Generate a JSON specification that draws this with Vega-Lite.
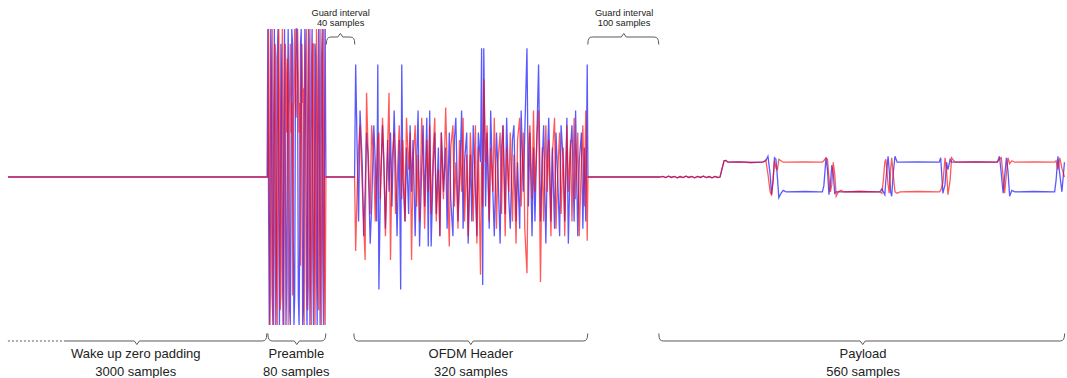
{
  "$schema": "https://vega.github.io/schema/vega-lite/v6.json",
  "width": 1067,
  "height": 378,
  "padding": 0,
  "autosize": {"type": "none"},
  "background": "#ffffff",
  "config": {"view": {"stroke": null}},
  "layer": [
    {
      "data": {"values": [
        {"t": -358, "r": 0, "b": 0},
        {"t": -1, "r": 0, "b": 0},
        {"t": 0, "r": 0, "b": 1},
        {"t": 1, "r": 1, "b": -0.2},
        {"t": 2, "r": 0.2, "b": -1},
        {"t": 3, "r": -1, "b": -0.3},
        {"t": 4, "r": -0.6, "b": 1},
        {"t": 5, "r": 0.7, "b": 0.6},
        {"t": 6, "r": 1, "b": -0.8},
        {"t": 7, "r": -0.3, "b": -1},
        {"t": 8, "r": -1, "b": 0.4},
        {"t": 9, "r": -0.4, "b": 1},
        {"t": 10, "r": 0.9, "b": 0.1},
        {"t": 11, "r": 0.8, "b": -1},
        {"t": 12, "r": -0.5, "b": -0.6},
        {"t": 13, "r": -1, "b": 0.8},
        {"t": 14, "r": 0.1, "b": 1},
        {"t": 15, "r": 1, "b": -0.2},
        {"t": 16, "r": 0.5, "b": -1},
        {"t": 17, "r": -0.9, "b": -0.3},
        {"t": 18, "r": -0.8, "b": 0.9},
        {"t": 19, "r": 0.6, "b": 0.7},
        {"t": 20, "r": 1, "b": -0.6},
        {"t": 21, "r": 0.2, "b": -1},
        {"t": 22, "r": -1, "b": 0.3},
        {"t": 23, "r": -0.2, "b": 1},
        {"t": 24, "r": 0.9, "b": 0.2},
        {"t": 25, "r": 0.7, "b": -1},
        {"t": 26, "r": 0.3, "b": -0.7},
        {"t": 27, "r": 0.8, "b": 0.5},
        {"t": 28, "r": -1, "b": 1},
        {"t": 29, "r": 0.4, "b": 0.4},
        {"t": 30, "r": 0.6, "b": -0.9},
        {"t": 31, "r": 0.9, "b": -1},
        {"t": 32, "r": 0.3, "b": 0.2},
        {"t": 33, "r": 0.5, "b": 1},
        {"t": 34, "r": -0.8, "b": 0.9},
        {"t": 35, "r": 0.2, "b": -0.4},
        {"t": 36, "r": 0.7, "b": -1},
        {"t": 37, "r": 1, "b": -0.8},
        {"t": 38, "r": 0.5, "b": 0.6},
        {"t": 39, "r": 0.4, "b": 1},
        {"t": 40, "r": 0.6, "b": 1},
        {"t": 41, "r": 1, "b": 0.6},
        {"t": 42, "r": 0.7, "b": -0.8},
        {"t": 43, "r": 0.3, "b": -1},
        {"t": 44, "r": 0.5, "b": -0.4},
        {"t": 45, "r": -0.6, "b": 0.9},
        {"t": 46, "r": 0.4, "b": 1},
        {"t": 47, "r": 0.9, "b": 0.2},
        {"t": 48, "r": 0.5, "b": -1},
        {"t": 49, "r": 0.6, "b": -0.9},
        {"t": 50, "r": -1, "b": 0.3},
        {"t": 51, "r": 0.3, "b": 1},
        {"t": 52, "r": 0.8, "b": 0.5},
        {"t": 53, "r": 1, "b": -0.7},
        {"t": 54, "r": 0.2, "b": -1},
        {"t": 55, "r": -0.9, "b": 0.4},
        {"t": 56, "r": -0.7, "b": 1},
        {"t": 57, "r": 0.8, "b": 0.2},
        {"t": 58, "r": 1, "b": -1},
        {"t": 59, "r": -0.2, "b": -0.6},
        {"t": 60, "r": -1, "b": 0.7},
        {"t": 61, "r": -0.5, "b": 1},
        {"t": 62, "r": 0.9, "b": -0.2},
        {"t": 63, "r": 0.9, "b": -1},
        {"t": 64, "r": -0.4, "b": -0.4},
        {"t": 65, "r": -1, "b": 0.9},
        {"t": 66, "r": 0.1, "b": 0.8},
        {"t": 67, "r": 1, "b": -0.6},
        {"t": 68, "r": 0.6, "b": -1},
        {"t": 69, "r": -0.8, "b": 0.3},
        {"t": 70, "r": -0.9, "b": 1},
        {"t": 71, "r": 0.5, "b": 0.1},
        {"t": 72, "r": 1, "b": -1},
        {"t": 73, "r": -0.1, "b": -0.5},
        {"t": 74, "r": -1, "b": 0.8},
        {"t": 75, "r": -0.5, "b": 1},
        {"t": 76, "r": 0.8, "b": -0.4},
        {"t": 77, "r": 1, "b": -1},
        {"t": 78, "r": -0.6, "b": 0.2},
        {"t": 79, "r": -1, "b": 1},
        {"t": 80, "r": 0, "b": 0},
        {"t": 119.5, "r": 0, "b": 0},
        {"t": 121, "r": -0.5, "b": 0.76},
        {"t": 123, "r": -0.1, "b": 0.2},
        {"t": 125, "r": 0.2, "b": -0.3},
        {"t": 127, "r": 0.35, "b": 0.45},
        {"t": 130, "r": -0.05, "b": 0.1},
        {"t": 132, "r": -0.3, "b": -0.4},
        {"t": 134, "r": -0.56, "b": -0.1},
        {"t": 136, "r": 0.57, "b": 0.3},
        {"t": 138, "r": 0.2, "b": 0.15},
        {"t": 141, "r": -0.25, "b": -0.45},
        {"t": 143, "r": 0.35, "b": -0.2},
        {"t": 146, "r": 0.1, "b": 0.35},
        {"t": 148, "r": -0.3, "b": 0.1},
        {"t": 150, "r": 0.05, "b": -0.3},
        {"t": 151.5, "r": 0.25, "b": 0.76},
        {"t": 153, "r": 0.3, "b": -0.76},
        {"t": 155, "r": -0.15, "b": -0.1},
        {"t": 158, "r": 0.4, "b": 0.35},
        {"t": 160, "r": 0.1, "b": 0.05},
        {"t": 162, "r": -0.4, "b": -0.35},
        {"t": 165, "r": 0.2, "b": 0.25},
        {"t": 167, "r": 0.57, "b": -0.1},
        {"t": 169, "r": -0.56, "b": 0.3},
        {"t": 171, "r": 0.1, "b": -0.2},
        {"t": 174, "r": 0.3, "b": 0.45},
        {"t": 176, "r": -0.25, "b": 0.1},
        {"t": 178, "r": -0.05, "b": -0.4},
        {"t": 181, "r": 0.35, "b": 0.25},
        {"t": 183, "r": 0.1, "b": -0.76},
        {"t": 184.5, "r": -0.15, "b": 0.76},
        {"t": 186, "r": 0.25, "b": 0.0},
        {"t": 189, "r": -0.3, "b": -0.3},
        {"t": 191, "r": 0.4, "b": 0.2},
        {"t": 194, "r": 0.05, "b": -0.25},
        {"t": 196, "r": 0.3, "b": 0.35},
        {"t": 198, "r": -0.56, "b": -0.1},
        {"t": 200, "r": 0.1, "b": 0.25},
        {"t": 203, "r": 0.35, "b": -0.4},
        {"t": 205, "r": -0.2, "b": 0.1},
        {"t": 207, "r": 0.15, "b": 0.45},
        {"t": 209, "r": -0.3, "b": -0.47},
        {"t": 212, "r": 0.4, "b": 0.05},
        {"t": 214, "r": 0.1, "b": 0.35},
        {"t": 216, "r": -0.35, "b": -0.2},
        {"t": 219, "r": 0.25, "b": 0.4},
        {"t": 221, "r": -0.1, "b": -0.47},
        {"t": 223, "r": 0.35, "b": 0.45},
        {"t": 225, "r": -0.25, "b": -0.47},
        {"t": 228, "r": 0.2, "b": 0.1},
        {"t": 230, "r": 0.4, "b": 0.3},
        {"t": 232, "r": -0.3, "b": -0.25},
        {"t": 235, "r": 0.05, "b": 0.2},
        {"t": 237, "r": -0.4, "b": -0.4},
        {"t": 239, "r": 0.3, "b": 0.3},
        {"t": 242, "r": -0.15, "b": -0.1},
        {"t": 245, "r": 0.47, "b": 0.2},
        {"t": 247, "r": 0.1, "b": -0.35},
        {"t": 250, "r": -0.47, "b": 0.3},
        {"t": 252, "r": 0.2, "b": -0.15},
        {"t": 255, "r": 0.35, "b": -0.4},
        {"t": 257, "r": -0.2, "b": 0.25},
        {"t": 259, "r": 0.1, "b": 0.4},
        {"t": 262, "r": -0.35, "b": -0.3},
        {"t": 264, "r": 0.25, "b": -0.05},
        {"t": 267, "r": -0.1, "b": 0.45},
        {"t": 269, "r": 0.4, "b": -0.35},
        {"t": 271, "r": -0.3, "b": 0.1},
        {"t": 274, "r": 0.15, "b": 0.3},
        {"t": 276, "r": -0.4, "b": -0.45},
        {"t": 279, "r": 0.3, "b": 0.15},
        {"t": 281, "r": 0.05, "b": -0.3},
        {"t": 283, "r": -0.3, "b": 0.35},
        {"t": 286, "r": 0.35, "b": -0.1},
        {"t": 288, "r": -0.45, "b": -0.4},
        {"t": 290, "r": 0.2, "b": 0.3},
        {"t": 293, "r": -0.66, "b": 0.1},
        {"t": 294.5, "r": 0.1, "b": 0.87},
        {"t": 296, "r": -0.2, "b": -0.73},
        {"t": 297.5, "r": 0.66, "b": 0.87},
        {"t": 300, "r": 0.1, "b": -0.2},
        {"t": 302, "r": 0.35, "b": 0.3},
        {"t": 305, "r": -0.3, "b": -0.35},
        {"t": 307, "r": 0.2, "b": 0.45},
        {"t": 310, "r": -0.1, "b": -0.1},
        {"t": 312, "r": 0.4, "b": -0.4},
        {"t": 315, "r": -0.35, "b": 0.3},
        {"t": 317, "r": 0.1, "b": 0.05},
        {"t": 320, "r": 0.3, "b": -0.45},
        {"t": 322, "r": -0.25, "b": 0.2},
        {"t": 324, "r": 0.35, "b": 0.35},
        {"t": 327, "r": -0.4, "b": -0.25},
        {"t": 329, "r": 0.2, "b": 0.4},
        {"t": 332, "r": -0.1, "b": -0.15},
        {"t": 334, "r": 0.3, "b": -0.35},
        {"t": 337, "r": -0.3, "b": 0.25},
        {"t": 339, "r": 0.15, "b": 0.35},
        {"t": 342, "r": -0.45, "b": -0.3},
        {"t": 344, "r": 0.25, "b": 0.1},
        {"t": 347, "r": 0.4, "b": -0.35},
        {"t": 349, "r": -0.2, "b": 0.45},
        {"t": 352, "r": 0.3, "b": -0.1},
        {"t": 354, "r": -0.35, "b": 0.3},
        {"t": 357, "r": -0.65, "b": 0.87},
        {"t": 359, "r": 0.2, "b": -0.2},
        {"t": 361, "r": 0.35, "b": 0.3},
        {"t": 364, "r": -0.15, "b": -0.4},
        {"t": 366, "r": 0.45, "b": 0.2},
        {"t": 368, "r": -0.1, "b": -0.3},
        {"t": 371, "r": 0.3, "b": 0.35},
        {"t": 373, "r": 0.45, "b": 0.76},
        {"t": 375.6, "r": -0.71, "b": -0.3},
        {"t": 378, "r": 0.2, "b": 0.1},
        {"t": 380, "r": -0.3, "b": 0.35},
        {"t": 383, "r": 0.35, "b": -0.45},
        {"t": 385, "r": -0.1, "b": 0.1},
        {"t": 387, "r": 0.25, "b": 0.4},
        {"t": 390, "r": -0.4, "b": -0.3},
        {"t": 392, "r": 0.15, "b": 0.2},
        {"t": 395, "r": 0.4, "b": -0.35},
        {"t": 397, "r": -0.35, "b": 0.3},
        {"t": 400, "r": 0.1, "b": -0.1},
        {"t": 402, "r": 0.3, "b": -0.4},
        {"t": 404, "r": -0.25, "b": 0.35},
        {"t": 407, "r": 0.2, "b": 0.1},
        {"t": 409, "r": -0.4, "b": -0.3},
        {"t": 412, "r": 0.35, "b": 0.4},
        {"t": 414, "r": -0.1, "b": -0.45},
        {"t": 417, "r": 0.25, "b": 0.2},
        {"t": 419, "r": -0.3, "b": 0.35},
        {"t": 422, "r": 0.4, "b": -0.3},
        {"t": 424, "r": -0.15, "b": 0.45},
        {"t": 427, "r": 0.3, "b": -0.4},
        {"t": 429, "r": -0.4, "b": 0.1},
        {"t": 432, "r": 0.1, "b": 0.3},
        {"t": 434, "r": 0.35, "b": -0.35},
        {"t": 436, "r": -0.2, "b": 0.2},
        {"t": 438, "r": 0.45, "b": -0.3},
        {"t": 440, "r": -0.43, "b": 0.76},
        {"t": 441, "r": 0, "b": 0},
        {"t": 540, "r": 0, "b": 0},
        {"t": 544, "r": 0.004, "b": 0.004},
        {"t": 548, "r": -0.004, "b": -0.004},
        {"t": 552, "r": 0.005, "b": 0.005},
        {"t": 556, "r": -0.003, "b": -0.003},
        {"t": 560, "r": 0.004, "b": 0.004},
        {"t": 564, "r": -0.005, "b": -0.005},
        {"t": 568, "r": 0.003, "b": 0.003},
        {"t": 572, "r": -0.004, "b": -0.004},
        {"t": 576, "r": 0.005, "b": 0.005},
        {"t": 580, "r": -0.003, "b": -0.003},
        {"t": 584, "r": 0.004, "b": 0.004},
        {"t": 588, "r": -0.005, "b": -0.005},
        {"t": 592, "r": 0.004, "b": 0.004},
        {"t": 596, "r": -0.003, "b": -0.003},
        {"t": 600, "r": 0.005, "b": 0.005},
        {"t": 604, "r": -0.004, "b": -0.004},
        {"t": 608, "r": 0.003, "b": 0.003},
        {"t": 612, "r": -0.005, "b": -0.005},
        {"t": 616, "r": 0.004, "b": 0.004},
        {"t": 620, "r": -0.003, "b": -0.003},
        {"t": 623, "r": 0, "b": 0},
        {"t": 626, "r": 0.06, "b": 0.06},
        {"t": 628.5, "r": 0.11, "b": 0.11},
        {"t": 631, "r": 0.112, "b": 0.112},
        {"t": 634, "r": 0.1, "b": 0.1},
        {"t": 650, "r": 0.102, "b": 0.102},
        {"t": 665, "r": 0.098, "b": 0.098},
        {"t": 682, "r": 0.1, "b": 0.1},
        {"t": 686, "r": 0.115, "b": 0.11},
        {"t": 689, "r": 0.02, "b": 0.14},
        {"t": 692, "r": -0.1, "b": 0.02},
        {"t": 694, "r": -0.12, "b": -0.12},
        {"t": 696, "r": -0.02, "b": -0.03},
        {"t": 698, "r": 0.11, "b": 0.13},
        {"t": 700, "r": 0.06, "b": 0.12},
        {"t": 702, "r": 0.05, "b": 0.0},
        {"t": 704, "r": 0.12, "b": -0.14},
        {"t": 707, "r": 0.11, "b": -0.11},
        {"t": 710, "r": 0.1, "b": -0.09},
        {"t": 714, "r": 0.1, "b": -0.1},
        {"t": 740, "r": 0.102, "b": -0.098},
        {"t": 760, "r": 0.1, "b": -0.1},
        {"t": 764, "r": 0.1, "b": -0.1},
        {"t": 766, "r": 0.11, "b": -0.06},
        {"t": 769, "r": 0.13, "b": 0.13},
        {"t": 771, "r": 0.12, "b": 0.05},
        {"t": 773, "r": 0.0, "b": -0.12},
        {"t": 775, "r": -0.1, "b": -0.05},
        {"t": 777, "r": -0.05, "b": 0.08},
        {"t": 779, "r": 0.1, "b": 0.02},
        {"t": 781, "r": 0.02, "b": -0.11},
        {"t": 783, "r": -0.13, "b": -0.1},
        {"t": 786, "r": -0.1, "b": -0.1},
        {"t": 790, "r": -0.09, "b": -0.1},
        {"t": 793, "r": -0.1, "b": -0.1},
        {"t": 815, "r": -0.098, "b": -0.098},
        {"t": 840, "r": -0.1, "b": -0.1},
        {"t": 843, "r": -0.1, "b": -0.1},
        {"t": 846, "r": -0.11, "b": -0.08},
        {"t": 848, "r": -0.02, "b": -0.1},
        {"t": 850, "r": 0.1, "b": -0.12},
        {"t": 851.5, "r": 0.12, "b": -0.02},
        {"t": 854.5, "r": -0.05, "b": 0.14},
        {"t": 856, "r": -0.11, "b": 0.05},
        {"t": 858, "r": 0.05, "b": -0.1},
        {"t": 859.5, "r": 0.13, "b": -0.13},
        {"t": 861.5, "r": 0.02, "b": 0.02},
        {"t": 864, "r": -0.1, "b": 0.14},
        {"t": 867, "r": -0.11, "b": 0.1},
        {"t": 871, "r": -0.1, "b": 0.1},
        {"t": 895, "r": -0.098, "b": 0.102},
        {"t": 925, "r": -0.1, "b": 0.1},
        {"t": 927, "r": -0.09, "b": 0.13},
        {"t": 930, "r": -0.04, "b": -0.11},
        {"t": 933, "r": 0.13, "b": -0.05},
        {"t": 935, "r": 0.05, "b": 0.1},
        {"t": 937, "r": -0.12, "b": 0.05},
        {"t": 940, "r": -0.02, "b": 0.12},
        {"t": 942, "r": 0.13, "b": 0.1},
        {"t": 945, "r": 0.11, "b": 0.1},
        {"t": 948, "r": 0.1, "b": 0.1},
        {"t": 975, "r": 0.102, "b": 0.102},
        {"t": 1005, "r": 0.1, "b": 0.1},
        {"t": 1008, "r": 0.12, "b": 0.14},
        {"t": 1010.5, "r": 0.13, "b": 0.02},
        {"t": 1013, "r": 0.0, "b": -0.11},
        {"t": 1015, "r": -0.11, "b": 0.0},
        {"t": 1017.5, "r": 0.02, "b": 0.13},
        {"t": 1019.7, "r": 0.13, "b": 0.04},
        {"t": 1022, "r": 0.09, "b": -0.13},
        {"t": 1025, "r": 0.11, "b": -0.09},
        {"t": 1029, "r": 0.1, "b": -0.1},
        {"t": 1055, "r": 0.102, "b": -0.098},
        {"t": 1084, "r": 0.1, "b": -0.1},
        {"t": 1086, "r": 0.11, "b": -0.02},
        {"t": 1088.5, "r": 0.05, "b": 0.14},
        {"t": 1091, "r": 0.13, "b": 0.02},
        {"t": 1094, "r": 0.06, "b": -0.1},
        {"t": 1097.5, "r": 0.0, "b": 0.1}
      ]},
      "transform": [{"fold": ["b", "r"], "as": ["s", "v"]}],
      "mark": {"type": "line", "strokeWidth": 1.3, "opacity": 0.65},
      "encoding": {
        "x": {"field": "t", "type": "quantitative", "scale": {"domain": [-369, 1101], "nice": false, "zero": false}, "axis": null},
        "y": {"field": "v", "type": "quantitative", "scale": {"domain": [-1.358, 1.196], "nice": false, "zero": false}, "axis": null},
        "color": {"field": "s", "type": "nominal", "scale": {"domain": ["b", "r"], "range": ["#0000ff", "#ff0000"]}, "legend": null}
      }
    },
    {
      "data": {"values": [
        {"g": "wz", "t": -279.6, "v": -1.108},
        {"g": "wz", "t": -183.9, "v": -1.108},
        {"g": "wz", "t": -180.4, "v": -1.132},
        {"g": "wz", "t": -177.0, "v": -1.108},
        {"g": "wz", "t": -7.58, "v": -1.108},
        {"g": "wz", "t": -4.82, "v": -1.105},
        {"g": "wz", "t": -3.03, "v": -1.098},
        {"g": "wz", "t": -1.93, "v": -1.084},
        {"g": "wz", "t": -1.38, "v": -1.057},
        {"g": "pre", "t": 0, "v": -1.057},
        {"g": "pre", "t": 0.55, "v": -1.084},
        {"g": "pre", "t": 1.65, "v": -1.098},
        {"g": "pre", "t": 3.44, "v": -1.105},
        {"g": "pre", "t": 6.2, "v": -1.108},
        {"g": "pre", "t": 36.5, "v": -1.108},
        {"g": "pre", "t": 39.9, "v": -1.132},
        {"g": "pre", "t": 43.4, "v": -1.108},
        {"g": "pre", "t": 73.7, "v": -1.108},
        {"g": "pre", "t": 76.4, "v": -1.105},
        {"g": "pre", "t": 78.2, "v": -1.098},
        {"g": "pre", "t": 79.3, "v": -1.084},
        {"g": "pre", "t": 79.9, "v": -1.057},
        {"g": "ofdm", "t": 118.5, "v": -1.057},
        {"g": "ofdm", "t": 119.0, "v": -1.084},
        {"g": "ofdm", "t": 120.1, "v": -1.098},
        {"g": "ofdm", "t": 121.9, "v": -1.105},
        {"g": "ofdm", "t": 124.7, "v": -1.108},
        {"g": "ofdm", "t": 276.2, "v": -1.108},
        {"g": "ofdm", "t": 279.6, "v": -1.132},
        {"g": "ofdm", "t": 283.1, "v": -1.108},
        {"g": "ofdm", "t": 434.6, "v": -1.108},
        {"g": "ofdm", "t": 437.3, "v": -1.105},
        {"g": "ofdm", "t": 439.1, "v": -1.098},
        {"g": "ofdm", "t": 440.2, "v": -1.084},
        {"g": "ofdm", "t": 440.8, "v": -1.057},
        {"g": "pay", "t": 538.6, "v": -1.057},
        {"g": "pay", "t": 539.1, "v": -1.084},
        {"g": "pay", "t": 540.2, "v": -1.098},
        {"g": "pay", "t": 542.0, "v": -1.105},
        {"g": "pay", "t": 544.8, "v": -1.108},
        {"g": "pay", "t": 816.1, "v": -1.108},
        {"g": "pay", "t": 819.6, "v": -1.132},
        {"g": "pay", "t": 823.0, "v": -1.108},
        {"g": "pay", "t": 1091.6, "v": -1.108},
        {"g": "pay", "t": 1094.4, "v": -1.105},
        {"g": "pay", "t": 1096.1, "v": -1.098},
        {"g": "pay", "t": 1097.2, "v": -1.084},
        {"g": "pay", "t": 1097.8, "v": -1.057},
        {"g": "g1", "t": 80.6, "v": 0.895},
        {"g": "g1", "t": 81.1, "v": 0.922},
        {"g": "g1", "t": 82.2, "v": 0.936},
        {"g": "g1", "t": 84.0, "v": 0.943},
        {"g": "g1", "t": 86.8, "v": 0.946},
        {"g": "g1", "t": 96.4, "v": 0.946},
        {"g": "g1", "t": 99.9, "v": 0.97},
        {"g": "g1", "t": 103.3, "v": 0.946},
        {"g": "g1", "t": 113.6, "v": 0.946},
        {"g": "g1", "t": 116.4, "v": 0.943},
        {"g": "g1", "t": 118.2, "v": 0.936},
        {"g": "g1", "t": 119.3, "v": 0.922},
        {"g": "g1", "t": 119.8, "v": 0.895},
        {"g": "g2", "t": 440.8, "v": 0.895},
        {"g": "g2", "t": 441.3, "v": 0.922},
        {"g": "g2", "t": 442.4, "v": 0.936},
        {"g": "g2", "t": 444.2, "v": 0.943},
        {"g": "g2", "t": 447.0, "v": 0.946},
        {"g": "g2", "t": 486.9, "v": 0.946},
        {"g": "g2", "t": 490.4, "v": 0.97},
        {"g": "g2", "t": 493.8, "v": 0.946},
        {"g": "g2", "t": 532.4, "v": 0.946},
        {"g": "g2", "t": 535.1, "v": 0.943},
        {"g": "g2", "t": 536.9, "v": 0.936},
        {"g": "g2", "t": 538.0, "v": 0.922},
        {"g": "g2", "t": 538.6, "v": 0.895}
      ]},
      "mark": {"type": "line", "color": "#5a5a5a", "strokeWidth": 1},
      "encoding": {
        "x": {"field": "t", "type": "quantitative", "scale": {"domain": [-369, 1101], "nice": false, "zero": false}, "axis": null},
        "y": {"field": "v", "type": "quantitative", "scale": {"domain": [-1.358, 1.196], "nice": false, "zero": false}, "axis": null},
        "detail": {"field": "g", "type": "nominal"}
      }
    },
    {
      "data": {"values": [
        {"t": -358.1, "v": -1.108},
        {"t": -279.6, "v": -1.108}
      ]},
      "mark": {"type": "line", "color": "#5a5a5a", "strokeWidth": 1, "strokeDash": [2, 2]},
      "encoding": {
        "x": {"field": "t", "type": "quantitative", "scale": {"domain": [-369, 1101], "nice": false, "zero": false}, "axis": null},
        "y": {"field": "v", "type": "quantitative", "scale": {"domain": [-1.358, 1.196], "nice": false, "zero": false}, "axis": null}
      }
    },
    {
      "data": {"values": [
        {"t": -182, "v": -1.223, "label": "Wake up zero padding"},
        {"t": -182, "v": -1.345, "label": "3000 samples"},
        {"t": 39.2, "v": -1.223, "label": "Preamble"},
        {"t": 39.2, "v": -1.345, "label": "80 samples"},
        {"t": 279.6, "v": -1.223, "label": "OFDM Header"},
        {"t": 279.6, "v": -1.345, "label": "320 samples"},
        {"t": 820, "v": -1.223, "label": "Payload"},
        {"t": 820, "v": -1.345, "label": "560 samples"}
      ]},
      "mark": {"type": "text", "font": "Liberation Sans", "fontSize": 13, "color": "#222222", "align": "center", "baseline": "alphabetic"},
      "encoding": {
        "x": {"field": "t", "type": "quantitative", "scale": {"domain": [-369, 1101], "nice": false, "zero": false}, "axis": null},
        "y": {"field": "v", "type": "quantitative", "scale": {"domain": [-1.358, 1.196], "nice": false, "zero": false}, "axis": null},
        "text": {"field": "label", "type": "nominal"}
      }
    },
    {
      "data": {"values": [
        {"t": 100.3, "v": 1.088, "label": "Guard interval"},
        {"t": 100.3, "v": 1.017, "label": "40 samples"},
        {"t": 490.8, "v": 1.088, "label": "Guard interval"},
        {"t": 490.8, "v": 1.017, "label": "100 samples"}
      ]},
      "mark": {"type": "text", "font": "Liberation Sans", "fontSize": 9.3, "color": "#222222", "align": "center", "baseline": "alphabetic"},
      "encoding": {
        "x": {"field": "t", "type": "quantitative", "scale": {"domain": [-369, 1101], "nice": false, "zero": false}, "axis": null},
        "y": {"field": "v", "type": "quantitative", "scale": {"domain": [-1.358, 1.196], "nice": false, "zero": false}, "axis": null},
        "text": {"field": "label", "type": "nominal"}
      }
    }
  ]
}
